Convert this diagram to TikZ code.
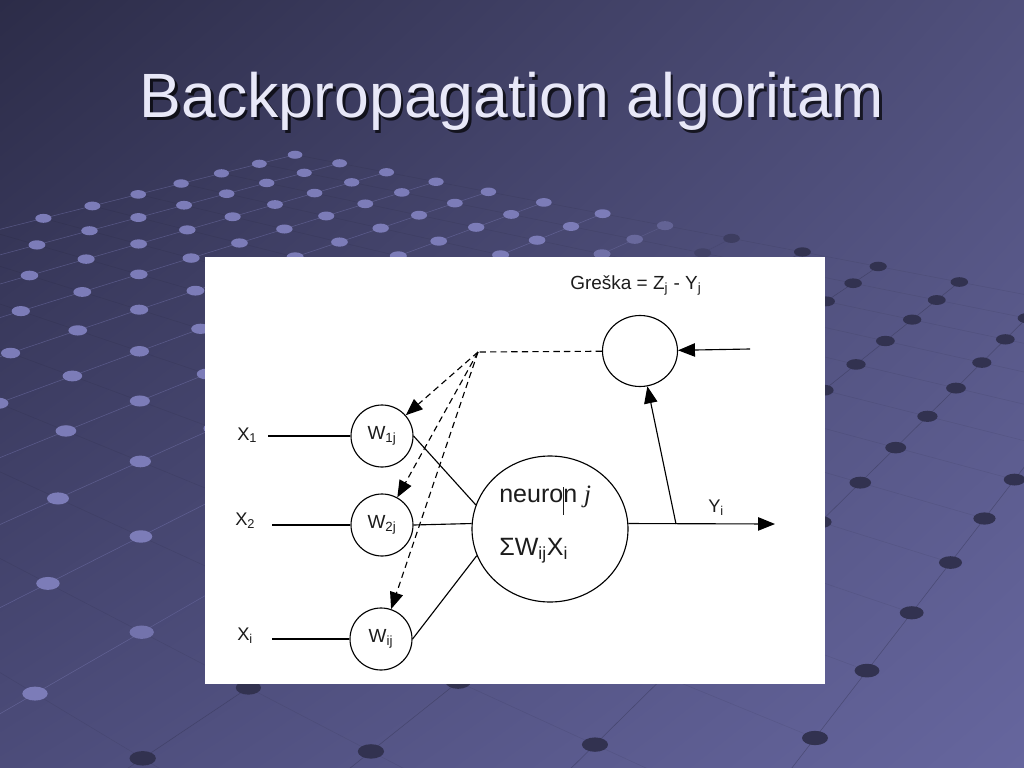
\documentclass[tikz,border=0pt]{standalone}
\usepackage{fontspec}
\setmainfont{Liberation Sans}
\newfontfamily\jserif{Liberation Serif}
\usetikzlibrary{arrows.meta,positioning,shapes.geometric,shadings}

\definecolor{bgtl}{RGB}{44,44,72}
\definecolor{bgtr}{RGB}{80,80,124}
\definecolor{bgbl}{RGB}{76,76,122}
\definecolor{bgbr}{RGB}{102,102,158}
\definecolor{dotlight}{RGB}{124,124,184}
\definecolor{dotdark}{RGB}{50,50,80}
\definecolor{titlefg}{RGB}{232,232,248}
\definecolor{inkgray}{RGB}{28,28,28}

\def\pxu{0.025cm}

% floor grid of the slide: plane point (u,v) -> picture point
\newcommand{\gridproj}[2]{%
  \pgfmathsetmacro{\gd}{1+0.0821*(#1)+0.073*(#2)}%
  \pgfmathsetmacro{\gx}{(815+123.2*(#1)-102.2*(#2))/\gd}%
  \pgfmathsetmacro{\gy}{(738-12.3*(#1)-12.41*(#2))/\gd}%
  \pgfmathsetmacro{\gr}{13*pow(\gd,-0.55)}%
  \pgfmathtruncatemacro{\gt}{max(0,min(100,(\gx+1.2*\gy-880)/1.6))}}

\begin{document}
\begin{tikzpicture}[x=0.025cm,y=-0.025cm,
  unit/.style={draw,circle,line width=0.8pt,minimum size=62*\pxu,inner sep=0pt,
    font=\fontsize{13.5}{16}\selectfont,text=inkgray},
  lbl/.style={inner sep=0pt,anchor=base west,text=inkgray,font=\fontsize{13}{16}\selectfont},
  big/.style={font=\fontsize{17.8}{20}\selectfont},
  wire/.style={line width=0.8pt},
  arr/.style={wire,-{Triangle[length=12pt,width=9.5pt]}},
  backarr/.style={arr,dash pattern=on 4.5pt off 3pt},
  gridline/.style={line width=0.4pt,opacity=0.45},
  gridcross/.style={line width=0.4pt,draw=black,opacity=0.07}
]
  \useasboundingbox (0,0) rectangle (1024,768);
  % Slide background
  \shade[upper left=bgtl,upper right=bgtr,lower left=bgbl,lower right=bgbr]
    (0,0) rectangle (1024,768);
  \begin{scope}
    \clip (0,0) rectangle (1024,768);
    \foreach \u in {-9,...,11}{
      \foreach \v in {0,...,13}{
        \gridproj{\u}{\v}
        \coordinate (g\u-\v) at (\gx,\gy);
        \expandafter\xdef\csname gt\u-\v\endcsname{\gt}
        \expandafter\xdef\csname gr\u-\v\endcsname{\gr}
      }
    }
    % grid lines
    \foreach \u in {-9,...,10}{
      \foreach \v in {0,...,13}{
        \pgfmathtruncatemacro{\un}{\u+1}
        \edef\tmix{\csname gt\u-\v\endcsname}
        \draw[gridline,draw=dotdark!\tmix!dotlight] (g\u-\v) -- (g\un-\v);
      }
    }
    \foreach \u in {-9,...,11}{
      \foreach \v in {0,...,12}{
        \pgfmathtruncatemacro{\vn}{\v+1}
        \draw[gridcross] (g\u-\v) -- (g\u-\vn);
      }
    }
    % dots
    \foreach \u in {-9,...,11}{
      \foreach \v in {0,...,13}{
        \edef\tmix{\csname gt\u-\v\endcsname}
        \edef\rad{\csname gr\u-\v\endcsname}
        \fill[dotdark!\tmix!dotlight] (g\u-\v) ellipse [x radius=\rad,y radius=0.55*\rad];
      }
    }
  \end{scope}
  % Title
  \node[font=\fontsize{44.5}{50}\selectfont,text=black,opacity=0.7,anchor=base]
    (titleshadow) at (514.5,120.5) {Backpropagation algoritam};
  \node[font=\fontsize{44.5}{50}\selectfont,text=titlefg,anchor=base]
    (title) at (512,118) {Backpropagation algoritam};
  % Diagram panel
  \fill[white] (205,257) rectangle (825,684);
  \node[draw,ellipse,line width=0.8pt,minimum width=75*\pxu,minimum height=71*\pxu,
    inner sep=0pt] (errc) at (640,351) {};
  \node[unit] (w1) at (382,436) {W\textsubscript{1j}};
  \node[unit] (w2) at (382,525) {W\textsubscript{2j}};
  \node[unit] (w3) at (381,639) {W\textsubscript{ij}};
  \node[draw,ellipse,line width=0.8pt,minimum width=156*\pxu,minimum height=146*\pxu,
    inner sep=0pt] (neuron) at (550,529) {};
  % Labels
  \node[lbl] (x1) at (237,440) {X\textsubscript{1}};
  \node[lbl] (x2) at (235,525) {X\textsubscript{2}};
  \node[lbl] (x3) at (237,640) {X\textsubscript{i}};
  \node[lbl,font=\fontsize{13.5}{16}\selectfont] (err) at (570,289)
    {Greška = Z\textsubscript{j} - Y\textsubscript{j}};
  \node[lbl] (ylab) at (708,512) {Y\textsubscript{i}};
  \node[lbl,big] (nline1) at (499,502)
    {neuro\rlap{\rule[-9pt]{0.6pt}{20pt}}n {\jserif\itshape j}};
  \node[lbl,big] (nline2) at (499,555) {ΣW\textsubscript{ij}X\textsubscript{i}};
  % Free ends
  \coordinate (br) at (478,352);
  \coordinate (fb) at (750,349);
  \coordinate (tap) at (676,524);
  \coordinate (yout) at (775,524);
  \coordinate (in1) at (268,436);
  \coordinate (in2) at (272,525);
  \coordinate (in3) at (272,639);
  % Forward connections
  \draw[wire] (in1) -- (w1);
  \draw[wire] (in2) -- (w2);
  \draw[wire] (in3) -- (w3);
  \draw[wire] (w1.east) -- (neuron.162);
  \draw[wire] (w2.east) -- (neuron.176);
  \draw[wire] (w3.east) -- (neuron.200);
  \draw[arr] (neuron.4) -- (yout);
  \draw[arr] (tap) -- (errc);
  \draw[arr] (fb) -- (errc);
  % Error back to weights
  \draw[wire,dash pattern=on 4.5pt off 3pt] (errc) -- (br);
  \draw[backarr] (br) -- (w1);
  \draw[backarr] (br) -- (w2);
  \draw[backarr] (br) -- (w3);
\end{tikzpicture}
\end{document}
